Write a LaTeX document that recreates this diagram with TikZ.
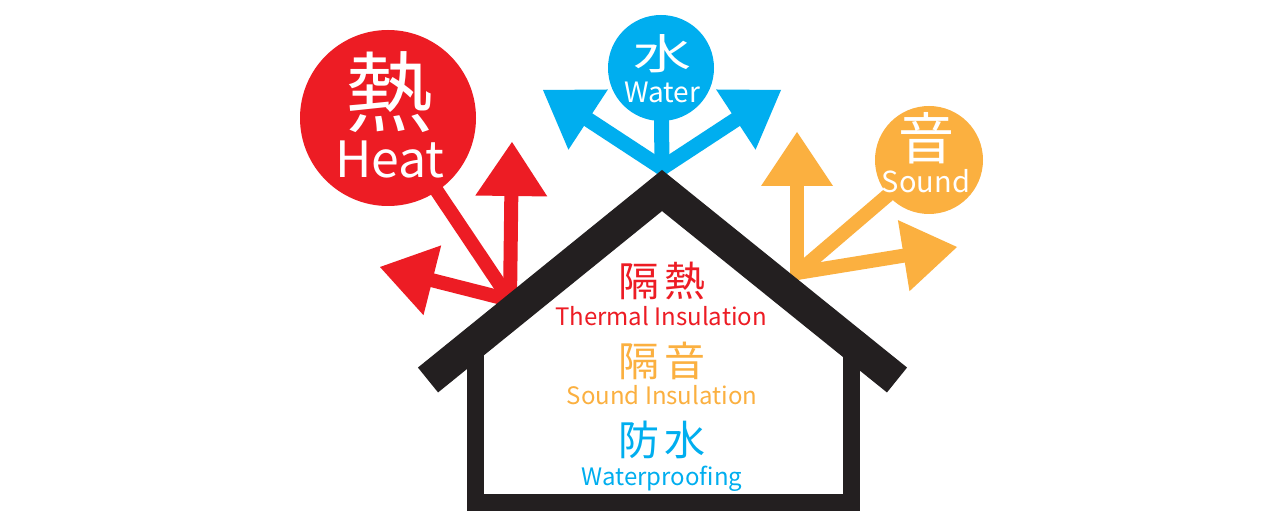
\documentclass[tikz,border=0pt]{standalone}
\usepackage{fontspec}
\newfontfamily\jpfont{Noto Sans CJK JP}
\usetikzlibrary{arrows.meta}
\definecolor{heatred}{HTML}{ED1C24}
\definecolor{waterblue}{HTML}{00AEEF}
\definecolor{soundorange}{HTML}{FBB040}
\definecolor{housegray}{HTML}{231F20}

\begin{document}
\begin{tikzpicture}[x=1pt, y=1pt,
  bubble/.style={circle, fill=#1, inner sep=0pt},
  stem/.style={draw=#1, line width=14pt, line cap=round},
  pointer/.style={draw=#1, line width=14pt, line cap=round,
    -{Triangle[length=54pt, width=72pt, line width=0pt]}},
  bigword/.style={white, inner sep=0pt, font=\jpfont\fontsize{#1}{#1}\selectfont},
  inword/.style={inner sep=0pt, font=\jpfont\fontsize{41}{41}\selectfont},
  insub/.style={inner sep=0pt, anchor=base, font=\jpfont\fontsize{24}{24}\selectfont}]

% White page
\fill[white] (0,0) rectangle (1280,525);
\useasboundingbox (0,0) rectangle (1280,525);

% Circles
\node[bubble=heatred, minimum size=176pt] (heat) at (388,407) {};
\node[bubble=waterblue, minimum size=106pt] (water) at (661,457) {};
\node[bubble=soundorange, minimum size=108pt] (sound) at (929,365) {};

% Junctions and arrow tips
\coordinate (hj) at (510,225);
\coordinate (hup) at (512,383);
\coordinate (hleft) at (380,258);
\coordinate (wj) at (662,357);
\coordinate (wleft) at (543,435);
\coordinate (wright) at (781,435);
\coordinate (sj) at (797,252);
\coordinate (sup) at (797,393);
\coordinate (sright) at (957,278);

% Heat arrows
\draw[stem=heatred] (heat) -- (hj);
\draw[pointer=heatred] (hj) -- (hup);
\draw[pointer=heatred] (hj) -- (hleft);

% Water arrows
\draw[stem=waterblue, line width=15pt] (water) -- (wj);
\draw[pointer=waterblue, line width=15pt] (wj) -- (wleft);
\draw[pointer=waterblue, line width=15pt] (wj) -- (wright);

% Sound arrows
\draw[stem=soundorange] (sound) -- (sj);
\draw[pointer=soundorange] (sj) -- (sup);
\draw[pointer=soundorange] (sj) -- (sright);

% Circle labels
\node[bigword=88] (heatzh) at (389,433) {熱};
\node[bigword=50, anchor=base] (heaten) at (390,347) {Heat};
\node[bigword=58] (waterzh) at (662,471) {\scalebox{1}[0.72]{水}};
\node[bigword=28, anchor=base] (wateren) at (662,422) {Water};
\node[bigword=56] (soundzh) at (926,387) {音};
\node[bigword=29, anchor=base] (sounden) at (926,332) {Sound};

% House
\draw[housegray, line width=17pt, line join=miter] (475,185) -- (475,23) -- (851,23) -- (851,185);
\draw[housegray, line width=32pt, line join=miter] (428,145) -- (662,334.5) -- (897,145);

% House labels
\node[inword, text=heatred] (thermalzh) at (662,244) {隔\hspace{6pt}熱};
\node[insub, text=heatred] (thermalen) at (661,199) {Thermal Insulation};
\node[inword, text=soundorange] (soundinzh) at (662,164) {隔\hspace{6pt}音};
\node[insub, text=soundorange] (soundinen) at (662,120) {Sound Insulation};
\node[inword, text=waterblue] (waterpzh) at (662,85) {防\hspace{6pt}水};
\node[insub, text=waterblue] (waterpen) at (662,40) {Waterproofing};

\end{tikzpicture}
\end{document}
